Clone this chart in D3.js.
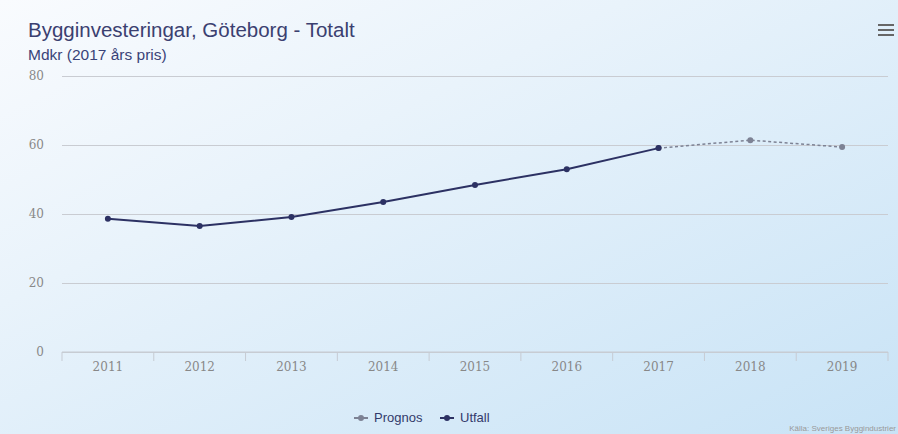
<!DOCTYPE html>
<html>
<head>
<meta charset="utf-8">
<script src="https://cdn.jsdelivr.net/npm/d3@7"></script>
<style>
  html, body { margin: 0; padding: 0; }
  body { width: 898px; height: 434px; overflow: hidden; font-family: "Liberation Sans", Arial, sans-serif; }
</style>
</head>
<body>
<svg id="chart" width="898" height="434"></svg>
<script>
// data
var years = ["2011", "2012", "2013", "2014", "2015", "2016", "2017", "2018", "2019"]
var utfall = [38.6, 36.5, 39.1, 43.5, 48.4, 53.0, 59.1, null, null]
var prognos = [null, null, null, null, null, null, 59.1, 61.4, 59.4]
var yTicks = [0, 20, 40, 60, 80]

var width = 898, height = 434
var plotLeft = 62, plotRight = 888, plotTop = 76, plotBottom = 352

var svg = d3.select("#chart")

// background gradient
var defs = svg.append("defs")
var grad = defs.append("linearGradient")
  .attr("id", "bg").attr("x1", "0").attr("y1", "0").attr("x2", "1").attr("y2", "1")
grad.append("stop").attr("offset", "0%").attr("stop-color", "#f9fbfe")
grad.append("stop").attr("offset", "35%").attr("stop-color", "#e9f3fb")
grad.append("stop").attr("offset", "100%").attr("stop-color", "#c8e3f6")
svg.append("rect").attr("width", width).attr("height", height).attr("fill", "url(#bg)")

var x = d3.scaleBand().domain(years).range([plotLeft, plotRight])
var y = d3.scaleLinear().domain([0, 80]).range([plotBottom, plotTop])

// gridlines + y labels
var yAxis = svg.append("g")
  .attr("transform", "translate(" + plotLeft + ",0)")
  .call(d3.axisLeft(y).tickValues(yTicks).tickSize(-(plotRight - plotLeft)).tickPadding(18))
yAxis.select(".domain").remove()
yAxis.selectAll(".tick line").attr("stroke", "#c9ccd2").attr("stroke-width", 1)
yAxis.selectAll(".tick text")
  .attr("fill", "#888").attr("font-size", "12px")
  .attr("font-family", "'DejaVu Serif', serif")

// x axis with ticks on category boundaries
var xg = svg.append("g").attr("transform", "translate(0," + plotBottom + ")")
xg.append("line").attr("x1", plotLeft).attr("x2", plotRight).attr("stroke", "#c6cbd3")
xg.selectAll(".bt").data(years.concat(["end"])).enter().append("line")
  .attr("x1", function(d, i) { return plotLeft + i * x.bandwidth() })
  .attr("x2", function(d, i) { return plotLeft + i * x.bandwidth() })
  .attr("y1", 0).attr("y2", 9)
  .attr("stroke", "#c6cbd3")
xg.selectAll(".lbl").data(years).enter().append("text")
  .attr("x", function(d) { return x(d) + x.bandwidth() / 2 })
  .attr("y", 19)
  .attr("text-anchor", "middle")
  .attr("fill", "#888").attr("font-size", "12px")
  .attr("font-family", "'DejaVu Serif', serif")
  .text(function(d) { return d })

var line = d3.line()
  .defined(function(d) { return d != null })
  .x(function(d, i) { return x(years[i]) + x.bandwidth() / 2 })
  .y(function(d) { return y(d) })

// Prognos (dashed grey)
svg.append("path").datum(prognos)
  .attr("d", line).attr("fill", "none")
  .attr("stroke", "#7d8294").attr("stroke-width", 1.5)
  .attr("stroke-dasharray", "3,2.5")
svg.selectAll(".pp").data(prognos).enter()
  .filter(function(d) { return d != null })
  .append("circle")
  .attr("cx", function(d) { return x(years[prognos.indexOf(d)]) + x.bandwidth() / 2 })
  .attr("cy", function(d) { return y(d) })
  .attr("r", 3).attr("fill", "#7d8294")

// Utfall (solid navy)
svg.append("path").datum(utfall)
  .attr("d", line).attr("fill", "none")
  .attr("stroke", "#2c3163").attr("stroke-width", 2)
svg.selectAll(".up").data(utfall).enter()
  .filter(function(d) { return d != null })
  .append("circle")
  .attr("cx", function(d) { return x(years[utfall.indexOf(d)]) + x.bandwidth() / 2 })
  .attr("cy", function(d) { return y(d) })
  .attr("r", 3).attr("fill", "#2c3163")

// titles
svg.append("text").attr("x", 28).attr("y", 37)
  .attr("fill", "#3b4070").attr("font-size", "20.5px")
  .text("Bygginvesteringar, Göteborg - Totalt")
svg.append("text").attr("x", 28).attr("y", 60)
  .attr("fill", "#3a4378").attr("font-size", "15.5px")
  .text("Mdkr (2017 års pris)")

// legend
var legend = [
  { name: "Prognos", color: "#7d8294", x: 354 },
  { name: "Utfall", color: "#2c3163", x: 440 }
]
var lg = svg.selectAll(".lg").data(legend).enter().append("g")
  .attr("transform", function(d) { return "translate(" + d.x + ",422)" })
lg.append("line").attr("x1", 0).attr("x2", 14).attr("y1", -4).attr("y2", -4)
  .attr("stroke", function(d) { return d.color }).attr("stroke-width", 2)
lg.append("circle").attr("cx", 7).attr("cy", -4).attr("r", 3)
  .attr("fill", function(d) { return d.color })
lg.append("text").attr("x", 20).attr("y", 0)
  .attr("fill", "#333a6b").attr("font-size", "13px")
  .text(function(d) { return d.name })

// credits
svg.append("text").attr("x", 896).attr("y", 431)
  .attr("text-anchor", "end")
  .attr("fill", "#999").attr("font-size", "8px")
  .text("Källa: Sveriges Byggindustrier")

// menu icon
var menu = svg.append("g").attr("transform", "translate(878,25)")
menu.selectAll("line").data([0, 5, 10]).enter().append("line")
  .attr("x1", 0).attr("x2", 16)
  .attr("y1", function(d) { return d }).attr("y2", function(d) { return d })
  .attr("stroke", "#666").attr("stroke-width", 2)
</script>
</body>
</html>
